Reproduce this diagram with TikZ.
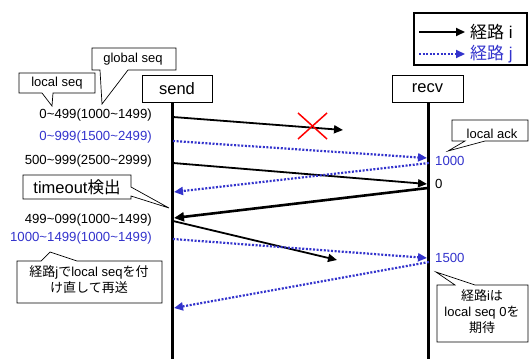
\documentclass[tikz,border=0pt]{standalone}
\usepackage{fontspec}
\setmainfont{Liberation Sans}
\newfontfamily\jpfont{Noto Sans CJK JP}
\usetikzlibrary{arrows.meta}
\definecolor{pathj}{RGB}{51,51,204}
\newcommand{\tl}{\textasciitilde}
\begin{document}
\begin{tikzpicture}[x=1pt,y=-1pt,
  lifebox/.style={draw, line width=0.8pt, fill=white, minimum width=70pt,
    minimum height=27pt, inner sep=0pt, font=\fontsize{16.5}{18}\selectfont},
  lifeline/.style={line width=3pt},
  msgi/.style={line width=1.8pt, -{Triangle[length=9pt,width=8pt]}},
  msgiback/.style={line width=2.6pt, -{Triangle[length=10pt,width=9pt]}},
  msgj/.style={line width=2.2pt, pathj, dash pattern=on 2pt off 1.6pt,
    -{Triangle[length=9pt,width=8pt]}},
  seqlabel/.style={font=\fontsize{13.2}{15}\selectfont, anchor=east, inner sep=0pt},
  acklabel/.style={font=\fontsize{13.2}{15}\selectfont, anchor=west, inner sep=0pt},
  note/.style={draw, line width=0.7pt, fill=white, line join=miter},
  notetext/.style={font=\fontsize{13}{16}\selectfont, align=center, inner sep=0pt},
  legendtext/.style={font=\fontsize{17}{19}\selectfont, anchor=west, inner sep=0pt}
]
\useasboundingbox (0,0) rectangle (529,359);

% legend
\node[draw, line width=2.6pt, minimum width=113pt, minimum height=52pt, inner sep=0pt]
  (legend) at (470.5,39) {};
\coordinate (li0) at (419,32);
\coordinate (li1) at (465,32);
\coordinate (lj0) at (419,54);
\coordinate (lj1) at (465,54);
\draw[msgi] (li0) -- (li1);
\draw[msgj] (lj0) -- (lj1);
\node[legendtext] (legi) at (470,32) {{\jpfont 経路} i};
\node[legendtext, text=pathj] (legj) at (470,54) {{\jpfont 経路} j};

% lifelines
\node[lifebox] (send) at (177,88.5) {send};
\node[lifebox, minimum width=71pt] (recv) at (427.5,88.5) {recv};
\coordinate (sendend) at (172,359);
\coordinate (recvend) at (428,359);
\draw[lifeline] (send.south -| sendend) -- (sendend);
\draw[lifeline] (recv.south -| recvend) -- (recvend);

% points on the send lifeline
\coordinate (s1) at (173,117);
\coordinate (s2) at (173,141);
\coordinate (s3) at (173,163);
\coordinate (s4) at (174,192);
\coordinate (s5) at (174,218);
\coordinate (s6) at (173,221);
\coordinate (s7) at (173,239);
\coordinate (s8) at (174,308);
% points on the recv lifeline
\coordinate (r2) at (427,158);
\coordinate (r3) at (427,184);
\coordinate (r4) at (429,163);
\coordinate (r5) at (428,188);
\coordinate (r7) at (427,258);
\coordinate (r8) at (429,262);
% ends of lost segments
\coordinate (lost1) at (343,130);
\coordinate (lost2) at (337,260);

% messages
\draw[msgi] (s1) -- (lost1);
\draw[msgj] (s2) -- (r2);
\draw[msgi] (s3) -- (r3);
\draw[msgj] (r4) -- (s4);
\draw[msgiback] (r5) -- (s5);
\draw[msgi] (s6) -- (lost2);
\draw[msgj] (s7) -- (r7);
\draw[msgj] (r8) -- (s8);

% loss mark
\coordinate (lossmark) at (312.5,126);
\draw[red, line width=1.5pt] ([shift={(-14.5,-13)}]lossmark) -- ([shift={(14.5,13)}]lossmark)
  ([shift={(14.5,-13)}]lossmark) -- ([shift={(-14.5,13)}]lossmark);

% sequence labels
\node[seqlabel] (q1) at (152,115) {0\tl499(1000\tl1499)};
\node[seqlabel, text=pathj] (q2) at (152,137) {0\tl999(1500\tl2499)};
\node[seqlabel] (q3) at (152,161) {500\tl999(2500\tl2999)};
\node[seqlabel] (q6) at (152,220) {499\tl099(1000\tl1499)};
\node[seqlabel, text=pathj] (q7) at (152,238) {1000\tl1499(1000\tl1499)};

% ack labels
\node[acklabel, text=pathj] (a2) at (435,161) {1000};
\node[acklabel] (a3) at (435,184) {0};
\node[acklabel, text=pathj] (a7) at (435,258) {1500};

% notes
\draw[note] (19,73) -- (95,73) -- (95,93) -- (53,93) -- (52,106) -- (42,93) -- (19,93) -- cycle;
\node[notetext] (nlocal) at (57,83) {local seq};

\draw[note] (92,48) -- (176,48) -- (176,70) -- (128,70) -- (102,104) -- (100,70) -- (92,70) -- cycle;
\node[notetext] (nglobal) at (133,59) {global seq};

\draw[note] (452,120) -- (528,120) -- (528,141) -- (485,141) -- (448,151) -- (465,141) -- (452,141) -- cycle;
\node[notetext] (nack) at (492,134) {local ack};

\draw[note] (23,175) -- (131,175) -- (131,187) -- (169,208) -- (131,196) -- (131,199) -- (23,199) -- cycle;
\node[notetext, font=\fontsize{16.5}{18}\selectfont] (ntimeout) at (77,187) {timeout{\jpfont 検出}};

\draw[note] (17,261) -- (41,261) -- (50,252) -- (77,261) -- (162,261) -- (162,303) -- (17,303) -- cycle;
\node[notetext] (nresend) at (89,280)
  {{\jpfont 経路}j{\jpfont で}local seq{\jpfont を付}\\{\jpfont け直して再送}};

\draw[note] (437,285) -- (455,285) -- (436,272) -- (475,285) -- (528,285) -- (528,342) -- (437,342) -- cycle;
\node[notetext] (nexpect) at (482,312)
  {{\jpfont 経路}i{\jpfont は}\\local seq 0{\jpfont を}\\{\jpfont 期待}};
\end{tikzpicture}
\end{document}
